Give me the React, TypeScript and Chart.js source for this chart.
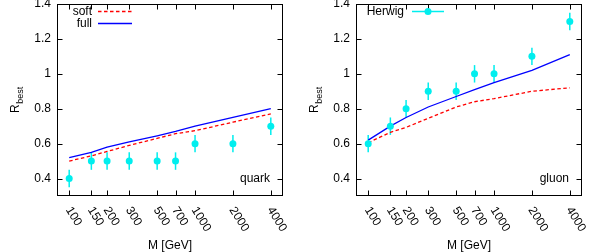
import React, { useEffect, useRef } from "react";
import { Chart, registerables } from "chart.js";
Chart.register(...registerables);

const masses = [100, 150, 200, 300, 500, 700, 1000, 2000, 4000];
const xTickValues = [100, 150, 200, 300, 500, 700, 1000, 2000, 4000];
const yTickValues = [0.4, 0.6, 0.8, 1.0, 1.2, 1.4];
const yTickLabels = ["0.4", "0.6", "0.8", "1", "1.2", "1.4"];

const quarkSoft = [0.5, 0.53, 0.555, 0.59, 0.63, 0.657, 0.674, 0.723, 0.77];
const quarkFull = [0.52, 0.55, 0.58, 0.61, 0.645, 0.67, 0.7, 0.75, 0.8];
const quarkHerwig = [0.4, 0.5, 0.5, 0.5, 0.5, 0.5, 0.6, 0.6, 0.7];

const gluonSoft = [0.605, 0.665, 0.693, 0.745, 0.81, 0.84, 0.858, 0.9, 0.92];
const gluonFull = [0.62, 0.7, 0.75, 0.81, 0.87, 0.91, 0.95, 1.02, 1.11];
const gluonHerwig = [0.6, 0.7, 0.8, 0.9, 0.9, 1.0, 1.0, 1.1, 1.3];

const herwigErr = [0.05, 0.05, 0.05, 0.05, 0.05, 0.05, 0.05, 0.05, 0.05];

const FONT = '"Liberation Sans", Arial, sans-serif';
const RED = "#ff0000";
const BLUE = "#0000ff";
const CYAN = "#00eeee";
const W = 299;
const H = 252;

type PanelProps = {
  soft: number[];
  full: number[];
  herwig: number[];
  tag: string;
  legend: "lines" | "herwig";
};

function Panel({ soft, full, herwig, tag, legend }: PanelProps) {
  const ref = useRef<HTMLCanvasElement | null>(null);

  useEffect(() => {
    if (!ref.current) return;
    const pts = (arr: number[]) => masses.map((m, i) => ({ x: m, y: arr[i] }));

    const gp = {
      id: "gp",
      beforeDatasetsDraw(chart: any) {
        const ctx = chart.ctx;
        const xs = chart.scales.x;
        const ys = chart.scales.y;
        ctx.save();
        ctx.strokeStyle = CYAN;
        ctx.lineWidth = 1.5;
        masses.forEach((m, i) => {
          const px = xs.getPixelForValue(m);
          ctx.beginPath();
          ctx.moveTo(px, ys.getPixelForValue(herwig[i] - herwigErr[i]));
          ctx.lineTo(px, ys.getPixelForValue(herwig[i] + herwigErr[i]));
          ctx.stroke();
        });
        ctx.restore();
      },
      afterDraw(chart: any) {
        const ctx = chart.ctx;
        const a = chart.chartArea;
        const xs = chart.scales.x;
        const ys = chart.scales.y;
        const L = Math.round(a.left) + 0.5;
        const R = Math.round(a.right) - 0.5;
        const T = Math.round(a.top) + 0.5;
        const B = Math.round(a.bottom) - 0.5;
        ctx.save();
        ctx.strokeStyle = "#000";
        ctx.lineWidth = 1;
        ctx.strokeRect(L, T, R - L, B - T);
        const tl = 5;
        ctx.beginPath();
        xTickValues.forEach((v) => {
          const px = Math.round(xs.getPixelForValue(v)) + 0.5;
          ctx.moveTo(px, B);
          ctx.lineTo(px, B - tl);
          ctx.moveTo(px, T);
          ctx.lineTo(px, T + tl);
        });
        yTickValues.forEach((v) => {
          const py = Math.round(ys.getPixelForValue(v)) + 0.5;
          ctx.moveTo(L, py);
          ctx.lineTo(L + tl, py);
          ctx.moveTo(R, py);
          ctx.lineTo(R - tl, py);
        });
        ctx.stroke();

        ctx.fillStyle = "#000";
        ctx.font = `12px ${FONT}`;
        ctx.textAlign = "right";
        ctx.textBaseline = "middle";
        yTickValues.forEach((v, i) => {
          ctx.fillText(yTickLabels[i], a.left - 6, ys.getPixelForValue(v));
        });

        // rotated x tick labels
        const ang = (58 * Math.PI) / 180;
        xTickValues.forEach((v) => {
          const px = xs.getPixelForValue(v);
          ctx.save();
          ctx.translate(px - 1, a.bottom + 12);
          ctx.rotate(ang);
          ctx.textAlign = "left";
          ctx.textBaseline = "middle";
          ctx.fillText(String(v), 0, 0);
          ctx.restore();
        });

        // x title
        ctx.textAlign = "center";
        ctx.textBaseline = "alphabetic";
        ctx.fillText("M [GeV]", (a.left + a.right) / 2, 249);

        // y title R_best
        ctx.save();
        ctx.translate(19, (a.top + a.bottom) / 2 + 13);
        ctx.rotate(-Math.PI / 2);
        ctx.textAlign = "left";
        ctx.textBaseline = "alphabetic";
        ctx.font = `12px ${FONT}`;
        ctx.fillText("R", 0, 0);
        const rw = ctx.measureText("R").width;
        ctx.font = `9px ${FONT}`;
        ctx.fillText("best", rw + 0.5, 4);
        ctx.restore();

        // corner tag
        ctx.font = `12px ${FONT}`;
        ctx.textAlign = "right";
        ctx.textBaseline = "middle";
        ctx.fillText(tag, a.right - 13, ys.getPixelForValue(0.4));

        // legend
        if (legend === "lines") {
          ctx.textAlign = "right";
          ctx.fillText("soft", 92, 11.5);
          ctx.fillText("full", 92, 23.5);
          ctx.lineWidth = 1.3;
          ctx.strokeStyle = RED;
          ctx.setLineDash([3.5, 2.5]);
          ctx.beginPath();
          ctx.moveTo(98, 11.5);
          ctx.lineTo(132, 11.5);
          ctx.stroke();
          ctx.setLineDash([]);
          ctx.strokeStyle = BLUE;
          ctx.beginPath();
          ctx.moveTo(98, 23.5);
          ctx.lineTo(132, 23.5);
          ctx.stroke();
        } else {
          ctx.textAlign = "right";
          ctx.fillText("Herwig", 105, 11.5);
          ctx.lineWidth = 1.5;
          ctx.strokeStyle = CYAN;
          ctx.beginPath();
          ctx.moveTo(113, 11.5);
          ctx.lineTo(145, 11.5);
          ctx.stroke();
          ctx.fillStyle = CYAN;
          ctx.beginPath();
          ctx.arc(129, 11.5, 3.5, 0, Math.PI * 2);
          ctx.fill();
        }
        ctx.restore();
      },
    };

    const chart = new Chart(ref.current, {
      type: "line",
      data: {
        datasets: [
          {
            label: "Herwig",
            data: pts(herwig),
            showLine: false,
            pointRadius: 3.5,
            pointBackgroundColor: CYAN,
            pointBorderWidth: 0,
            borderColor: CYAN,
            order: 0,
          },
          {
            label: "full",
            data: pts(full),
            borderColor: BLUE,
            borderWidth: 1.3,
            pointRadius: 0,
            tension: 0,
            fill: false,
            order: 1,
          },
          {
            label: "soft",
            data: pts(soft),
            borderColor: RED,
            borderWidth: 1.3,
            borderDash: [3.5, 2.5],
            pointRadius: 0,
            tension: 0,
            fill: false,
            order: 2,
          },
        ],
      },
      options: {
        responsive: false,
        animation: false,
        devicePixelRatio: 1,
        layout: { padding: { left: 57, right: 16, top: 0, bottom: 56 } },
        plugins: { legend: { display: false }, tooltip: { enabled: false } },
        scales: {
          x: { type: "logarithmic", min: 80, max: 5000, display: false },
          y: { type: "linear", min: 0.3, max: 1.4, display: false },
        },
      },
      plugins: [gp],
    } as any);
    return () => chart.destroy();
  }, [soft, full, herwig, tag, legend]);

  return <canvas ref={ref} width={W} height={H} style={{ display: "block", width: W, height: H }} />;
}

export default function App() {
  return (
    <div
      style={{
        position: "absolute",
        left: 0,
        top: 0,
        width: 598,
        height: 252,
        display: "flex",
        background: "#fff",
      }}
    >
      <Panel soft={quarkSoft} full={quarkFull} herwig={quarkHerwig} tag="quark" legend="lines" />
      <Panel soft={gluonSoft} full={gluonFull} herwig={gluonHerwig} tag="gluon" legend="herwig" />
    </div>
  );
}
